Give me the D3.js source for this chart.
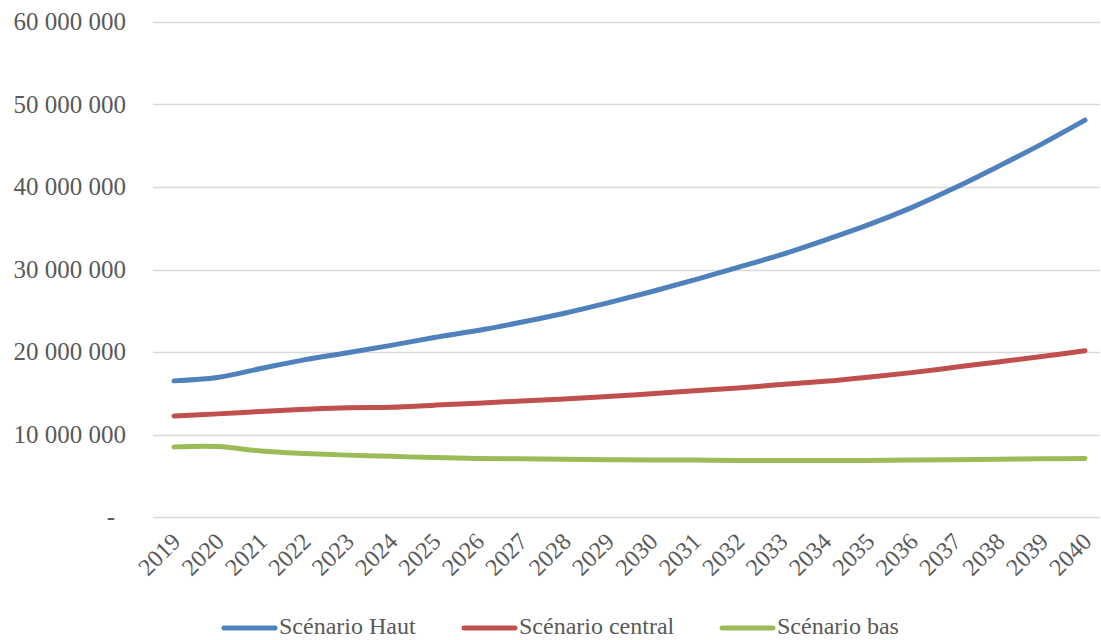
<!DOCTYPE html>
<html>
<head>
<meta charset="utf-8">
<script src="https://cdn.jsdelivr.net/npm/d3@7"></script>
<style>
  body { margin: 0; background: #fff; }
  svg { display: block; }
  text { font-family: "Liberation Serif", "DejaVu Serif", serif; fill: #595959; }
</style>
</head>
<body>
<svg id="chart" width="1101" height="640"></svg>
<script>
const years = ["2019","2020","2021","2022","2023","2024","2025","2026","2027","2028","2029","2030",
               "2031","2032","2033","2034","2035","2036","2037","2038","2039","2040"];
const seriesNames = ["Scénario Haut", "Scénario central", "Scénario bas"];
const haut = [16.5, 16.9, 18.0, 19.05, 19.9, 20.8, 21.75, 22.6, 23.6, 24.7, 25.95, 27.3,
              28.75, 30.25, 31.8, 33.55, 35.4, 37.5, 39.9, 42.5, 45.2, 48.1].map(v => v * 1e6);
const central = [12.25, 12.5, 12.8, 13.05, 13.25, 13.3, 13.55, 13.8, 14.05, 14.3, 14.6, 14.95,
                 15.3, 15.65, 16.05, 16.45, 16.95, 17.5, 18.15, 18.8, 19.45, 20.15].map(v => v * 1e6);
const bas = [8.5, 8.55, 8.0, 7.7, 7.5, 7.35, 7.2, 7.1, 7.05, 7.0, 6.95, 6.9,
             6.9, 6.85, 6.85, 6.85, 6.85, 6.9, 6.95, 7.0, 7.05, 7.1].map(v => v * 1e6);
const yTicks = [0, 10e6, 20e6, 30e6, 40e6, 50e6, 60e6];
const colors = ["#4F81BD", "#C0504D", "#9BBB59"];

const svg = d3.select("#chart");
const x = d3.scalePoint().domain(years).range([174, 1085]);
const y = d3.scaleLinear().domain([0, 60e6]).range([517, 22]);

const fmt = v => v === 0 ? "-" : d3.format(",")(v).replace(/,/g, " ");

// gridlines
svg.append("g").selectAll("line").data(yTicks).join("line")
  .attr("x1", 153).attr("x2", 1100)
  .attr("y1", d => Math.round(y(d)) + 0.5).attr("y2", d => Math.round(y(d)) + 0.5)
  .attr("stroke", "#D9D9D9").attr("stroke-width", 1.5);

// y labels
svg.append("g").selectAll("text").data(yTicks).join("text")
  .attr("x", d => d === 0 ? 115 : 126)
  .attr("y", d => y(d) + 8)
  .attr("text-anchor", "end")
  .style("font-size", "25px")
  .text(fmt);

// x labels
svg.append("g").selectAll("text").data(years).join("text")
  .attr("transform", d => `translate(${x(d) + 8},${543}) rotate(-45)`)
  .attr("text-anchor", "end")
  .style("font-size", "24px")
  .text(d => d);

// lines
const data = [haut, central, bas];
const line = d3.line().x((d, i) => x(years[i])).y(d => y(d)).curve(d3.curveCatmullRom.alpha(0.5));
svg.append("g").selectAll("path").data(data).join("path")
  .attr("d", line)
  .attr("fill", "none")
  .attr("stroke", (d, i) => colors[i])
  .attr("stroke-width", 5)
  .attr("stroke-linecap", "round")
  .attr("stroke-linejoin", "round");

// legend
const legendX = [222, 462, 720];
const lg = svg.append("g").selectAll("g").data(seriesNames).join("g")
  .attr("transform", (d, i) => `translate(${legendX[i]},628)`);
lg.append("line").attr("x1", 2).attr("x2", 53).attr("y1", 0).attr("y2", 0)
  .attr("stroke", (d, i) => colors[i]).attr("stroke-width", 5).attr("stroke-linecap", "round");
lg.append("text").attr("x", 57).attr("y", 6).style("font-size", "24px").text(d => d);
</script>
</body>
</html>
